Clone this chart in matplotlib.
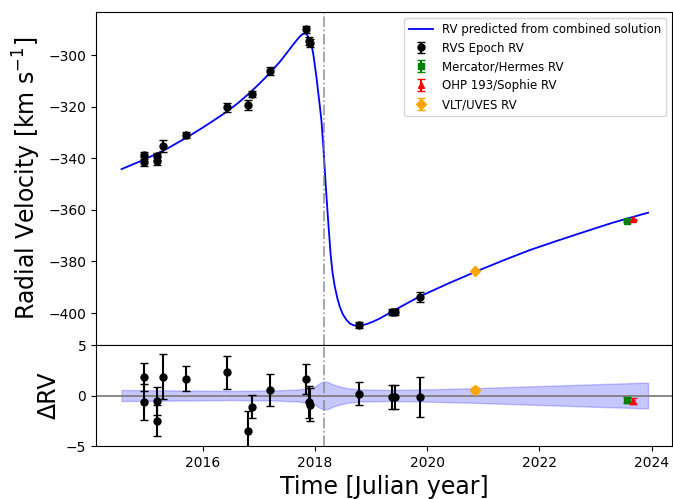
import numpy as np
import matplotlib
matplotlib.use("Agg")
import matplotlib.pyplot as plt

# ---- model curve ----
model_t = [2014.556, 2014.95, 2015.357, 2015.713, 2016.009, 2016.2, 2016.426,
           2016.63, 2016.841, 2017.0, 2017.197, 2017.375, 2017.494, 2017.62,
           2017.70, 2017.74, 2017.78, 2017.815, 2017.85, 2017.89, 2017.939,
           2017.97, 2017.998, 2018.03, 2018.057, 2018.09, 2018.118, 2018.158,
           2018.194, 2018.235, 2018.278, 2018.315, 2018.354, 2018.40, 2018.443,
           2018.50, 2018.563, 2018.62, 2018.680, 2018.787, 2018.919, 2019.04,
           2019.156, 2019.352, 2019.6, 2019.856, 2020.4, 2020.937, 2021.4,
           2021.827, 2022.3, 2022.718, 2023.3, 2023.934]
model_rv = [-344.2, -340.6, -336.4, -332.0, -328.0, -325.3, -322.0,
            -318.6, -314.6, -311.3, -307.0, -302.6, -299.3, -295.7,
            -293.6, -292.6, -291.9, -291.6, -291.8, -293.3, -296.1,
            -299.5, -303.9, -309.0, -314.2, -320.2, -325.9, -338.1,
            -351.0, -364.0, -376.9, -384.5, -389.8, -394.3, -397.6,
            -400.6, -402.7, -404.0, -404.7, -405.0, -404.3, -403.3,
            -402.1, -399.7, -396.7, -393.7, -388.3, -383.3, -379.2,
            -375.6, -372.1, -369.1, -365.0, -361.1]

# ---- model uncertainty band in residual panel ----
band_t = [2014.556, 2015.5, 2016.5, 2017.3, 2017.7, 2017.9, 2018.0, 2018.08,
          2018.16, 2018.24, 2018.32, 2018.45, 2018.6, 2018.8, 2019.3, 2019.8,
          2020.8, 2021.8, 2022.8, 2023.934]
band_hw = [0.55, 0.5, 0.45, 0.5, 0.6, 0.72, 0.9, 1.2,
           1.4, 1.32, 1.1, 0.88, 0.7, 0.6, 0.55, 0.58,
           0.72, 0.9, 1.08, 1.28]

# ---- Gaia RVS epoch RVs ----
rvs_t = [2014.956, 2014.956, 2015.19, 2015.19, 2015.286, 2015.70, 2016.426,
         2016.80, 2016.88, 2017.20, 2017.838, 2017.897, 2017.905,
         2018.787, 2019.364, 2019.423, 2019.868]
rvs_rv = [-338.8, -341.4, -339.2, -341.0, -335.3, -331.0, -320.3,
          -319.4, -315.1, -306.1, -290.0, -294.6, -295.2,
          -404.8, -399.7, -399.5, -393.7]
rvs_res = [1.81, -0.66, -0.56, -2.48, 1.88, 1.65, 2.28,
           -3.47, -1.09, 0.56, 1.65, -0.66, -0.9,
           0.17, -0.17, -0.17, -0.17]
rvs_err = [1.4, 1.75, 1.4, 1.5, 2.2, 1.25, 1.6,
           1.9, 1.15, 1.55, 1.47, 1.6, 1.6,
           1.15, 1.2, 1.2, 2.0]

# ---- ground-based RVs ----
herm_t, herm_rv, herm_res, herm_err = [2023.55], [-364.3], [-0.43], [0.3]
soph_t, soph_rv, soph_res, soph_err = [2023.67], [-363.7], [-0.5], [0.3]
uves_t, uves_rv, uves_res, uves_err = [2020.848], [-383.6], [0.5], [0.3]

t_peri = 2018.157
xticks = [2016, 2018, 2020, 2022, 2024]

fig = plt.figure(figsize=(6.73, 4.99), dpi=100)
ax1 = fig.add_axes([0.1426, 0.3086, 0.8559, 0.6673])
ax2 = fig.add_axes([0.1426, 0.1062, 0.8559, 0.2024], sharex=ax1)

ms = 5
cs = 3
ax1.plot(model_t, model_rv, color='b', lw=1.3, label='RV predicted from combined solution')
ax1.errorbar(rvs_t, rvs_rv, yerr=rvs_err, fmt='o', color='k', ms=ms, capsize=cs, label='RVS Epoch RV')
ax1.errorbar(herm_t, herm_rv, yerr=herm_err, fmt='s', color='green', ms=ms, capsize=cs, label='Mercator/Hermes RV')
ax1.errorbar(soph_t, soph_rv, yerr=soph_err, fmt='^', color='red', ms=ms, capsize=cs, label='OHP 193/Sophie RV')
ax1.errorbar(uves_t, uves_rv, yerr=uves_err, fmt='D', color='orange', ms=ms, capsize=cs, label='VLT/UVES RV')
ax1.axvline(t_peri, color='gray', ls='-.', lw=1.2, alpha=0.8)
ax1.set_ylabel('Radial Velocity [km s$^{-1}$]', fontsize=17)
ax1.set_xlim(2014.10, 2024.36)
ax1.set_ylim(-412.4, -283.3)
ax1.set_yticks([-300, -320, -340, -360, -380, -400])
ax1.tick_params(labelsize=10, labelbottom=False)
ax1.legend(loc='upper right', fontsize=8.5, framealpha=0.8)

hw = np.array(band_hw)
ax2.fill_between(band_t, -hw, hw, color='blue', alpha=0.22, lw=1)
ax2.axhline(0, color='gray', lw=1.3)
ax2.axvline(t_peri, color='gray', ls='-.', lw=1.2, alpha=0.8)
ax2.errorbar(rvs_t, rvs_res, yerr=rvs_err, fmt='o', color='k', ms=ms, capsize=cs)
ax2.errorbar(herm_t, herm_res, yerr=herm_err, fmt='s', color='green', ms=ms, capsize=cs)
ax2.errorbar(soph_t, soph_res, yerr=soph_err, fmt='^', color='red', ms=ms, capsize=cs)
ax2.errorbar(uves_t, uves_res, yerr=uves_err, fmt='D', color='orange', ms=ms, capsize=cs)
ax2.set_ylim(-5, 5)
ax2.set_yticks([-5, 0, 5])
ax2.set_xticks(xticks)
ax2.set_xticklabels([str(x) for x in xticks])
ax2.tick_params(labelsize=10)
ax2.set_ylabel('ΔRV', fontsize=17)
ax2.set_xlabel('Time [Julian year]', fontsize=17)

fig.savefig('out.png', dpi=100)
